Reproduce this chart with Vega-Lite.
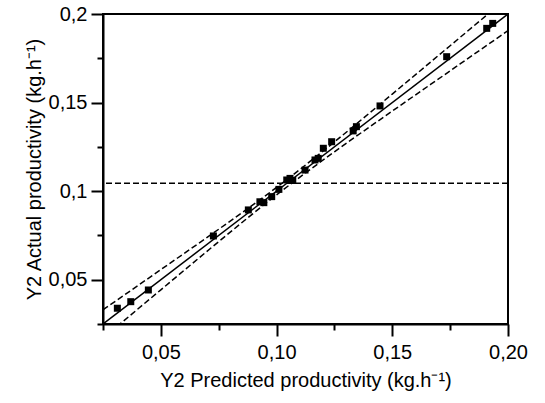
{
  "$schema": "https://vega.github.io/schema/vega-lite/v6.json",
  "width": 405,
  "height": 310,
  "autosize": {"type": "none"},
  "padding": {"left": 103, "top": 14, "right": 37, "bottom": 79},
  "background": "white",
  "config": {
    "view": {"stroke": "black", "strokeWidth": 2},
    "font": "Liberation Sans",
    "axis": {
      "domainColor": "black",
      "domainWidth": 2,
      "tickColor": "black",
      "tickWidth": 2,
      "grid": false,
      "labelColor": "black",
      "titleColor": "black",
      "labelFont": "Liberation Sans",
      "titleFont": "Liberation Sans",
      "labelFontSize": 20,
      "titleFontSize": 20,
      "titleFontWeight": "normal",
      "labelFlush": false,
      "labelOverlap": false
    }
  },
  "datasets": {
    "points": [
      {"pred": 0.0312, "act": 0.0339},
      {"pred": 0.0370, "act": 0.0376},
      {"pred": 0.0446, "act": 0.0442},
      {"pred": 0.0727, "act": 0.0747},
      {"pred": 0.0878, "act": 0.0894},
      {"pred": 0.0928, "act": 0.0940},
      {"pred": 0.0945, "act": 0.0935},
      {"pred": 0.0979, "act": 0.0969},
      {"pred": 0.1010, "act": 0.1010},
      {"pred": 0.1044, "act": 0.1063},
      {"pred": 0.1058, "act": 0.1072},
      {"pred": 0.1070, "act": 0.1060},
      {"pred": 0.1123, "act": 0.1119},
      {"pred": 0.1166, "act": 0.1176},
      {"pred": 0.1180, "act": 0.1185},
      {"pred": 0.1202, "act": 0.1242},
      {"pred": 0.1238, "act": 0.1279},
      {"pred": 0.1331, "act": 0.1340},
      {"pred": 0.1345, "act": 0.1364},
      {"pred": 0.1447, "act": 0.1481},
      {"pred": 0.1735, "act": 0.1759},
      {"pred": 0.1908, "act": 0.1919},
      {"pred": 0.1934, "act": 0.1947}
    ],
    "diag": [
      {"pred": 0.025, "act": 0.025},
      {"pred": 0.2, "act": 0.2}
    ],
    "band": [
      {"band": "upper", "pred": 0.025, "act": 0.033},
      {"band": "upper", "pred": 0.05, "act": 0.0557},
      {"band": "upper", "pred": 0.075, "act": 0.0785},
      {"band": "upper", "pred": 0.1, "act": 0.1021},
      {"band": "upper", "pred": 0.125, "act": 0.1278},
      {"band": "upper", "pred": 0.15, "act": 0.1548},
      {"band": "upper", "pred": 0.175, "act": 0.1821},
      {"band": "upper", "pred": 0.2, "act": 0.2094},
      {"band": "lower", "pred": 0.025, "act": 0.017},
      {"band": "lower", "pred": 0.05, "act": 0.0443},
      {"band": "lower", "pred": 0.075, "act": 0.0715},
      {"band": "lower", "pred": 0.1, "act": 0.0979},
      {"band": "lower", "pred": 0.125, "act": 0.1222},
      {"band": "lower", "pred": 0.15, "act": 0.1452},
      {"band": "lower", "pred": 0.175, "act": 0.1679},
      {"band": "lower", "pred": 0.2, "act": 0.1906}
    ],
    "mean": [{"act": 0.1045}]
  },
  "layer": [
    {
      "data": {"name": "diag"},
      "mark": {"type": "line", "color": "black", "strokeWidth": 1.5, "clip": true},
      "encoding": {
        "x": {
          "field": "pred",
          "type": "quantitative",
          "scale": {"domain": [0.025, 0.2], "nice": false, "zero": false},
          "axis": {
            "title": "Y2 Predicted productivity (kg.h⁻¹)",
            "values": [0.025, 0.05, 0.075, 0.1, 0.125, 0.15, 0.175, 0.2],
            "labelExpr": "abs(datum.value*20 - round(datum.value*20)) < 0.001 ? replace(format(datum.value, '.2f'), '.', ',') : ''",
            "tickSize": {"condition": {"test": "abs(datum.value*20 - round(datum.value*20)) < 0.001", "value": 12}, "value": 6},
            "labelPadding": 6,
            "titlePadding": 8
          }
        },
        "y": {
          "field": "act",
          "type": "quantitative",
          "scale": {"domain": [0.025, 0.2], "nice": false, "zero": false},
          "axis": {
            "title": "Y2 Actual productivity (kg.h⁻¹)",
            "values": [0.025, 0.05, 0.075, 0.1, 0.125, 0.15, 0.175, 0.2],
            "labelExpr": "abs(datum.value*20 - round(datum.value*20)) < 0.001 ? replace(format(datum.value, '.2~f'), '.', ',') : ''",
            "tickSize": {"condition": {"test": "abs(datum.value*20 - round(datum.value*20)) < 0.001", "value": 12}, "value": 6},
            "labelPadding": 4,
            "titlePadding": 4
          }
        }
      }
    },
    {
      "data": {"name": "band"},
      "mark": {"type": "line", "color": "black", "strokeWidth": 1.5, "strokeDash": [6, 3], "clip": true, "interpolate": "monotone"},
      "encoding": {
        "x": {"field": "pred", "type": "quantitative"},
        "y": {"field": "act", "type": "quantitative"},
        "detail": {"field": "band"}
      }
    },
    {
      "data": {"name": "mean"},
      "mark": {"type": "rule", "color": "black", "strokeWidth": 1.5, "strokeDash": [6, 3]},
      "encoding": {
        "y": {"field": "act", "type": "quantitative"}
      }
    },
    {
      "data": {"name": "points"},
      "mark": {"type": "point", "shape": "square", "filled": true, "color": "black", "size": 49, "opacity": 1},
      "encoding": {
        "x": {"field": "pred", "type": "quantitative"},
        "y": {"field": "act", "type": "quantitative"}
      }
    }
  ]
}
